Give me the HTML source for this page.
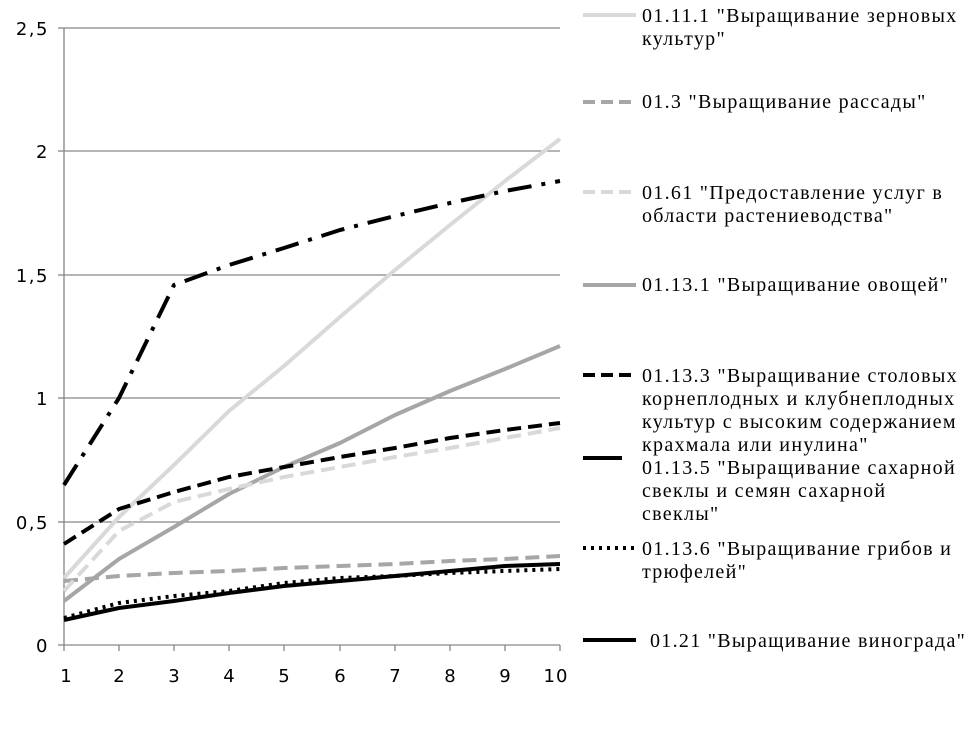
<!DOCTYPE html>
<html><head><meta charset="utf-8"><style>body{margin:0;background:#fff}</style></head><body>
<svg width="972" height="726" xmlns="http://www.w3.org/2000/svg" font-family="Liberation Serif, serif">
<g stroke="#868686" stroke-width="1.3">
<line x1="64" y1="28" x2="560" y2="28"/><line x1="64" y1="151" x2="560" y2="151"/><line x1="64" y1="275" x2="560" y2="275"/><line x1="64" y1="398" x2="560" y2="398"/><line x1="64" y1="522" x2="560" y2="522"/><line x1="64" y1="645" x2="560" y2="645"/>
<line x1="64" y1="28" x2="64" y2="645"/>
<line x1="58" y1="28" x2="64" y2="28"/><line x1="58" y1="151" x2="64" y2="151"/><line x1="58" y1="275" x2="64" y2="275"/><line x1="58" y1="398" x2="64" y2="398"/><line x1="58" y1="522" x2="64" y2="522"/><line x1="58" y1="645" x2="64" y2="645"/>
<line x1="64" y1="645" x2="64" y2="651"/><line x1="119" y1="645" x2="119" y2="651"/><line x1="174" y1="645" x2="174" y2="651"/><line x1="229" y1="645" x2="229" y2="651"/><line x1="284" y1="645" x2="284" y2="651"/><line x1="340" y1="645" x2="340" y2="651"/><line x1="395" y1="645" x2="395" y2="651"/><line x1="450" y1="645" x2="450" y2="651"/><line x1="505" y1="645" x2="505" y2="651"/><line x1="560" y1="645" x2="560" y2="651"/>
</g>
<g font-size="18" fill="#000" text-anchor="end" font-family="DejaVu Sans, sans-serif" letter-spacing="1.5">
<text x="49" y="35">2,5</text><text x="49" y="158">2</text><text x="49" y="282">1,5</text><text x="49" y="405">1</text><text x="49" y="529">0,5</text><text x="49" y="652">0</text>
</g>
<g font-size="18" fill="#000" text-anchor="middle" font-family="DejaVu Sans, sans-serif">
<text x="66" y="682">1</text><text x="119" y="682">2</text><text x="174" y="682">3</text><text x="229" y="682">4</text><text x="284" y="682">5</text><text x="340" y="682">6</text><text x="395" y="682">7</text><text x="450" y="682">8</text><text x="505" y="682">9</text><text x="556" y="682" letter-spacing="1">10</text>
</g>
<g fill="none" stroke-linejoin="round">
<polyline stroke="#d9d9d9" stroke-width="4" points="64,578 119,517 174,465 229,411 284,366 340,317 395,270 450,225 505,181 560,139"/>
<polyline stroke="#a6a6a6" stroke-width="4" stroke-dasharray="14,7" points="64,581 119,576 174,573 229,571 284,568 340,566 395,564 450,561 505,559 560,556"/>
<polyline stroke="#a6a6a6" stroke-width="4" points="64,601 119,559 174,527 229,494 284,467 340,443 395,415 450,391 505,369 560,346"/>
<polyline stroke="#d9d9d9" stroke-width="4" stroke-dasharray="14,7" points="64,591 119,531 174,502 229,489 284,477 340,467 395,457 450,448 505,438 560,428"/>
<polyline stroke="#000" stroke-width="4" stroke-dasharray="14,7" points="64,544 119,509 174,492 229,477 284,467 340,457 395,448 450,438 505,430 560,423"/>
<polyline stroke="#000" stroke-width="4" stroke-dasharray="24,10,4,10" points="64,485 119,398 174,285 229,265 284,248 340,230 395,216 450,203 505,191 560,181"/>
<polyline stroke="#000" stroke-width="4" stroke-dasharray="3,5" points="64,618 119,603 174,596 229,591 284,583 340,578 395,576 450,573 505,571 560,569"/>
<polyline stroke="#000" stroke-width="4" points="64,620 119,608 174,601 229,593 284,586 340,581 395,576 450,571 505,566 560,564"/>
</g>
<g stroke-width="4">
<line x1="583" y1="15" x2="636" y2="15" stroke="#d9d9d9"/>
<line x1="583" y1="102" x2="636" y2="102" stroke="#a6a6a6" stroke-dasharray="12,6"/>
<line x1="583" y1="192" x2="636" y2="192" stroke="#d9d9d9" stroke-dasharray="12,6"/>
<line x1="583" y1="285" x2="636" y2="285" stroke="#a6a6a6"/>
<line x1="583" y1="375" x2="636" y2="375" stroke="#000" stroke-dasharray="12,6"/>
<line x1="583" y1="458" x2="622" y2="458" stroke="#000"/>
<line x1="583" y1="548" x2="636" y2="548" stroke="#000" stroke-dasharray="3,5"/>
<line x1="583" y1="640" x2="636" y2="640" stroke="#000"/>
</g>
<g font-size="20" fill="#000" letter-spacing="1.3">
<text x="642" y="22">01.11.1 "Выращивание зерновых</text><text x="642" y="45">культур"</text>
<text x="642" y="108">01.3 "Выращивание рассады"</text>
<text x="642" y="199">01.61 "Предоставление услуг в</text><text x="642" y="222">области растениеводства"</text>
<text x="642" y="291">01.13.1 "Выращивание овощей"</text>
<text x="642" y="382">01.13.3 "Выращивание столовых</text><text x="642" y="405">корнеплодных и клубнеплодных</text><text x="642" y="428">культур с высоким содержанием</text><text x="642" y="451">крахмала или инулина"</text>
<text x="642" y="474">01.13.5 "Выращивание сахарной</text><text x="642" y="497">свеклы и семян сахарной</text><text x="642" y="520">свеклы"</text>
<text x="642" y="555">01.13.6 "Выращивание грибов и</text><text x="642" y="578">трюфелей"</text>
<text x="650" y="647">01.21 "Выращивание винограда"</text>
</g>
</svg>
</body></html>
